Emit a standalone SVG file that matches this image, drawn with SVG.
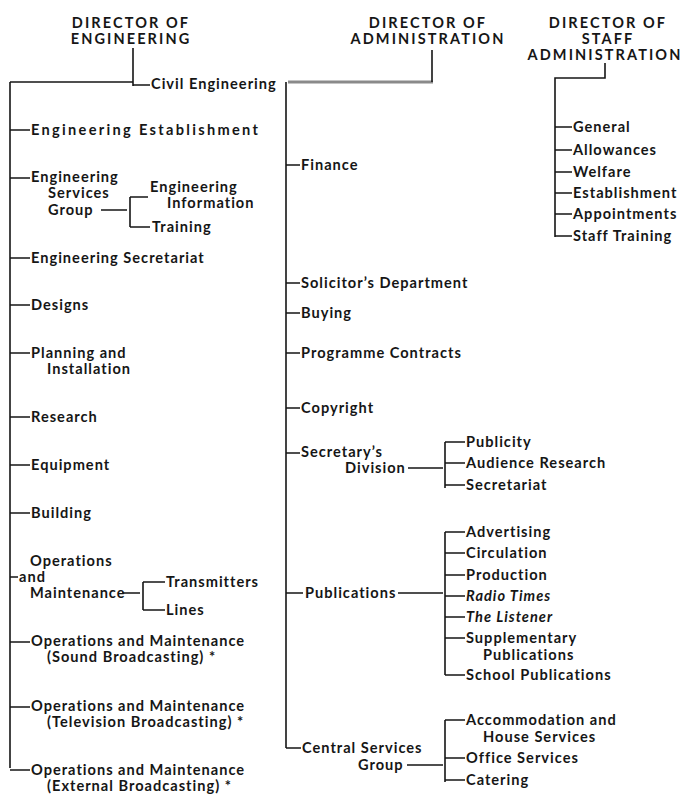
<svg xmlns="http://www.w3.org/2000/svg" width="683" height="794" viewBox="0 0 683 794">
<style>
text{font-family:Lato,"Open Sans","DejaVu Sans",sans-serif;font-weight:bold;font-size:14.6px;fill:#161616;letter-spacing:1px}
.h{font-size:14.5px;text-anchor:middle;letter-spacing:2.1px}
.w{letter-spacing:2.3px}
.i{font-style:italic}
#connectors path{fill:none;stroke:#161616;stroke-width:1.6}
#connectors .g{stroke:#8a8a8a;stroke-width:3}
</style>
<rect width="683" height="794" fill="#ffffff"/>
<g id="connectors">
<path d="M133,48V86M10,82H133M133,85H150M10,82V768"/>
<path d="M10,130H30M10,178H30M101,210H127M130,197V227M130,197H148M130,227H150M10,258H30M10,305H30M10,353H30M10,417H30M10,465H30M10,513H30M10,577H18M122,593H140M143,582V610M143,582H165M143,610H165M10,642H30M10,707H30M10,770H30"/>
<path class="g" d="M288,82H433"/>
<path d="M432,50V82M286,82V748"/>
<path d="M286,165H300M286,283H300M286,313H300M286,353H300M286,408H300M286,453H300M408,468H443M445,442V488M445,442H465M445,463H465M445,485H465"/>
<path d="M286,593H303M398,593H443M445,532V675M445,532H465M445,553H465M445,575H465M445,596H465M445,617H465M445,638H465M445,675H465"/>
<path d="M286,748H301M407,765H443M445,720V782M445,720H465M445,758H465M445,780H465"/>
<path d="M605,63V78H555V237M555,127H572M555,150H572M555,172H572M555,193H572M555,214H572M555,236H572"/>
</g>
<g id="director-engineering"><text class="h"><tspan x="131" y="28">DIRECTOR OF</tspan><tspan x="131" y="44">ENGINEERING</tspan></text></g>
<g id="director-administration"><text class="h"><tspan x="428" y="28">DIRECTOR OF</tspan><tspan x="428" y="44">ADMINISTRATION</tspan></text></g>
<g id="director-staff"><text class="h"><tspan x="608" y="28">DIRECTOR OF</tspan><tspan x="608" y="44">STAFF</tspan><tspan x="605" y="60">ADMINISTRATION</tspan></text></g>
<g id="civil-engineering"><text x="151" y="89">Civil Engineering</text></g>
<g id="engineering-establishment"><text class="w" x="31" y="135">Engineering Establishment</text></g>
<g id="engineering-services-group"><text><tspan x="31" y="182">Engineering</tspan><tspan x="48" y="198">Services</tspan><tspan x="48" y="215">Group</tspan></text></g>
<g id="engineering-information"><text><tspan x="150" y="192">Engineering</tspan><tspan x="167" y="208">Information</tspan></text></g>
<g id="training"><text x="152" y="232">Training</text></g>
<g id="engineering-secretariat"><text x="31" y="263">Engineering Secretariat</text></g>
<g id="designs"><text x="31" y="310">Designs</text></g>
<g id="planning-installation"><text><tspan x="31" y="358">Planning and</tspan><tspan x="47" y="374">Installation</tspan></text></g>
<g id="research"><text x="31" y="422">Research</text></g>
<g id="equipment"><text x="31" y="470">Equipment</text></g>
<g id="building"><text x="31" y="518">Building</text></g>
<g id="operations-maintenance"><text><tspan x="30" y="566">Operations</tspan><tspan x="19" y="582">and</tspan><tspan x="30" y="598">Maintenance</tspan></text></g>
<g id="transmitters"><text x="166" y="587">Transmitters</text></g>
<g id="lines"><text x="166" y="615">Lines</text></g>
<g id="om-sound"><text><tspan x="31" y="646">Operations and Maintenance</tspan><tspan x="47" y="662">(Sound Broadcasting) *</tspan></text></g>
<g id="om-television"><text><tspan x="31" y="711">Operations and Maintenance</tspan><tspan x="47" y="727">(Television Broadcasting) *</tspan></text></g>
<g id="om-external"><text><tspan x="31" y="775">Operations and Maintenance</tspan><tspan x="47" y="791">(External Broadcasting) *</tspan></text></g>
<g id="finance"><text x="301" y="170">Finance</text></g>
<g id="solicitors"><text x="301" y="288">Solicitor’s Department</text></g>
<g id="buying"><text x="301" y="318">Buying</text></g>
<g id="programme-contracts"><text x="301" y="358">Programme Contracts</text></g>
<g id="copyright"><text x="301" y="413">Copyright</text></g>
<g id="secretarys-division"><text><tspan x="301" y="457">Secretary’s</tspan><tspan x="345" y="473">Division</tspan></text></g>
<g id="publicity"><text x="466" y="447">Publicity</text></g>
<g id="audience-research"><text x="466" y="468">Audience Research</text></g>
<g id="secretariat"><text x="466" y="490">Secretariat</text></g>
<g id="publications"><text x="305" y="598">Publications</text></g>
<g id="advertising"><text x="466" y="537">Advertising</text></g>
<g id="circulation"><text x="466" y="558">Circulation</text></g>
<g id="production"><text x="466" y="580">Production</text></g>
<g id="radio-times"><text class="i" x="466" y="601">Radio Times</text></g>
<g id="the-listener"><text class="i" x="466" y="622">The Listener</text></g>
<g id="supplementary-publications"><text><tspan x="466" y="643">Supplementary</tspan><tspan x="483" y="660">Publications</tspan></text></g>
<g id="school-publications"><text x="466" y="680">School Publications</text></g>
<g id="central-services-group"><text><tspan x="302" y="753">Central Services</tspan><tspan x="358" y="770">Group</tspan></text></g>
<g id="accommodation"><text><tspan x="466" y="725">Accommodation and</tspan><tspan x="483" y="742">House Services</tspan></text></g>
<g id="office-services"><text x="466" y="763">Office Services</text></g>
<g id="catering"><text x="466" y="785">Catering</text></g>
<g id="general"><text x="573" y="132">General</text></g>
<g id="allowances"><text x="573" y="155">Allowances</text></g>
<g id="welfare"><text x="573" y="177">Welfare</text></g>
<g id="establishment"><text x="573" y="198">Establishment</text></g>
<g id="appointments"><text x="573" y="219">Appointments</text></g>
<g id="staff-training"><text x="573" y="241">Staff Training</text></g>
</svg>
